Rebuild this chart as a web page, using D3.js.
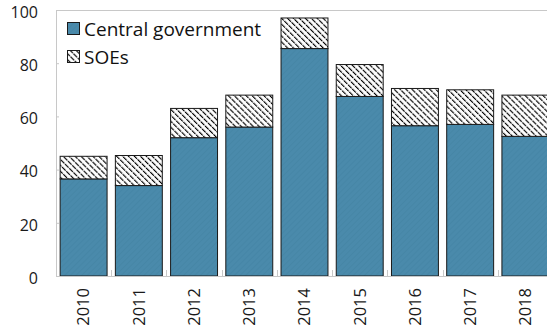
<!DOCTYPE html>
<html><head><meta charset="utf-8">
<script src="https://cdn.jsdelivr.net/npm/d3@7"></script>
<style>body{margin:0;background:#fff}svg{display:block}text{font-family:"Open Sans","Noto Sans",sans-serif}</style>
</head><body>
<svg id="c" width="547" height="331"></svg>
<script>
const years = ["2010","2011","2012","2013","2014","2015","2016","2017","2018"];
const central = [36.5,34,52,56,85.5,67.5,56.5,57,52.5];
const soes = [8.5,11.3,11,12,11.5,12,14,13,15.5];
const yTicks = [0,20,40,60,80,100];
const seriesNames = ["Central government","SOEs"];

const svg = d3.select("#c");
const m = {l:56, t:10, b:276, r:553};
const x = d3.scaleBand().domain(years).range([m.l, m.r]).paddingInner(0.15).paddingOuter(0.075);
const y = d3.scaleLinear().domain([0,100]).range([m.b, m.t]);

const defs = svg.append("defs");
const pb = defs.append("pattern").attr("id","blue").attr("patternUnits","userSpaceOnUse")
  .attr("width",4).attr("height",4).attr("patternTransform","rotate(45)");
pb.append("rect").attr("width",4).attr("height",4).attr("fill","#4a8aab");
pb.append("rect").attr("width",1).attr("height",4).attr("fill","#4686a6");
const ph = defs.append("pattern").attr("id","hatch").attr("patternUnits","userSpaceOnUse")
  .attr("width",4.2).attr("height",6).attr("patternTransform","rotate(-45)");
ph.append("rect").attr("width",4.2).attr("height",6).attr("fill","#fff");
ph.append("rect").attr("x",0.8).attr("y",0).attr("width",1.15).attr("height",5.2).attr("fill","#000");

// plot frame
svg.append("line").attr("x1",m.l).attr("x2",547).attr("y1",m.t+0.5).attr("y2",m.t+0.5).attr("stroke","#c8c8c8");

const g = svg.append("g");
years.forEach((yr,i)=>{
  g.append("rect").attr("x",x(yr)).attr("width",x.bandwidth())
    .attr("y",y(central[i])).attr("height",y(0)-y(central[i]))
    .attr("fill","url(#blue)").attr("stroke","#1a1a1a").attr("stroke-width",1);
  const tot = central[i]+soes[i];
  g.append("rect").attr("x",x(yr)).attr("width",x.bandwidth())
    .attr("y",y(tot)).attr("height",y(central[i])-y(tot))
    .attr("fill","url(#hatch)").attr("stroke","#1a1a1a").attr("stroke-width",1);
});

// y axis
const ya = svg.append("g").attr("transform",`translate(${m.l},0)`)
  .call(d3.axisLeft(y).tickValues(yTicks).tickSize(-3).tickPadding(18));
ya.select(".domain").attr("stroke","#c8c8c8");
ya.selectAll(".tick line").attr("stroke","#c8c8c8");
ya.selectAll("text").attr("font-size",16).attr("dy","0.45em").attr("fill","#1a1a1a").attr("font-family","'Open Sans',sans-serif");

// x axis
const xa = svg.append("g").attr("transform",`translate(0,${m.b})`)
  .call(d3.axisBottom(x).tickSize(0).tickPadding(0));
xa.select(".domain").remove();
svg.append("line").attr("x1",m.l).attr("x2",547).attr("y1",m.b+0.5).attr("y2",m.b+0.5).attr("stroke","#c8c8c8");
years.slice(1).forEach(yr=>{
  const bx = Math.round(x(yr) - x.step()*x.paddingInner()/2)+0.5;
  svg.append("line").attr("x1",bx).attr("x2",bx).attr("y1",m.b-6).attr("y2",m.b).attr("stroke","#c8c8c8");
});
xa.selectAll("text").attr("font-size",16.5).attr("fill","#1a1a1a").attr("font-family","'Open Sans',sans-serif")
  .attr("transform","rotate(-90)").attr("text-anchor","end").attr("dy","0.35em").attr("x",-12).attr("y",0);

// legend
const lg = svg.append("g");
[["url(#blue)",0],["url(#hatch)",1]].forEach(([f,i])=>{
  lg.append("rect").attr("x",67.5).attr("y",22.5+i*28).attr("width",12).attr("height",12)
    .attr("fill",f).attr("stroke","#1a1a1a").attr("stroke-width",1);
  lg.append("text").attr("x",84).attr("y",29+i*28).attr("dy","0.35em")
    .attr("font-size",19).attr("fill","#111").text(seriesNames[i]);
});
</script>
</body></html>
